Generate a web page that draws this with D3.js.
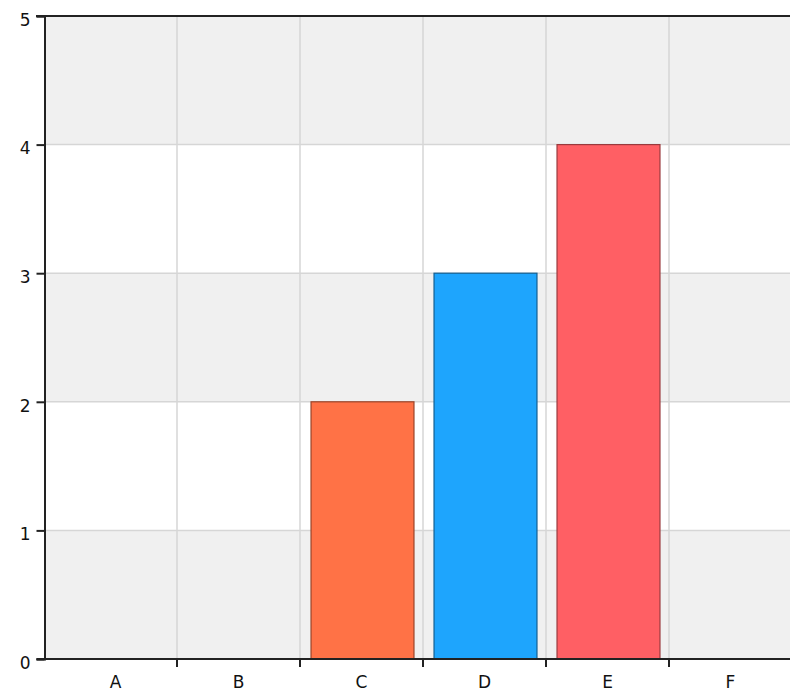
<!DOCTYPE html>
<meta charset="utf-8">
<style>
    body { margin: 0; background: #fff; }
    .tick text { font-family: "DejaVu Sans", sans-serif; font-size: 17px; fill: #111; }
</style>
<script src="https://d3js.org/d3.v7.min.js"></script>
<div id="chart"></div>
<script>
    // data
    var categories = ["A", "B", "C", "D", "E", "F"];
    var values = [0, 0, 2, 3, 4, 0];
    var colors = ["#ff7246", "#ff7246", "#ff7246", "#1ea5fd", "#ff5f64", "#ff5f64"];
    var strokes = ["#9a4428", "#9a4428", "#9a4428", "#135f92", "#9a3a3d", "#9a3a3d"];
    var yTicks = [0, 1, 2, 3, 4, 5];

    var width = 790, height = 695;
    var axisX = 44.5;          // y axis line
    var plotTop = 16, plotBottom = 659;

    var svg = d3.select("#chart").append("svg")
        .attr("width", width).attr("height", height);

    var x = d3.scaleBand().domain(categories).range([54, 792]).padding(0);
    var y = d3.scaleLinear().domain([0, 5]).range([plotBottom, plotTop]);

    // alternating bands
    d3.range(5).forEach(function(i) {
        svg.append("rect")
            .attr("x", axisX).attr("y", y(i + 1))
            .attr("width", width - axisX).attr("height", y(i) - y(i + 1))
            .attr("fill", i % 2 == 0 ? "#f0f0f0" : "#ffffff");
    });

    // horizontal grid
    yTicks.forEach(function(t) {
        svg.append("line")
            .attr("x1", axisX).attr("x2", width)
            .attr("y1", y(t)).attr("y2", y(t))
            .attr("stroke", "#d6d6d6").attr("stroke-width", 1.5);
    });

    // vertical grid at category boundaries
    categories.slice(1).forEach(function(c) {
        svg.append("line")
            .attr("x1", x(c)).attr("x2", x(c))
            .attr("y1", plotTop).attr("y2", plotBottom)
            .attr("stroke", "#d6d6d6").attr("stroke-width", 1.5);
    });

    // bars
    var barW = x.bandwidth() * 0.837;
    categories.forEach(function(c, i) {
        if (values[i] <= 0) return;
        svg.append("rect")
            .attr("x", x(c) + (x.bandwidth() - barW) / 2 + 1)
            .attr("y", y(values[i]))
            .attr("width", barW)
            .attr("height", y(0) - y(values[i]))
            .attr("fill", colors[i])
            .attr("stroke", strokes[i]).attr("stroke-width", 1.2);
    });

    // top border
    svg.append("line")
        .attr("x1", 36).attr("x2", width)
        .attr("y1", plotTop).attr("y2", plotTop)
        .attr("stroke", "#222").attr("stroke-width", 2);

    // y axis
    var yAxis = d3.axisLeft(y).tickValues(yTicks).tickFormat(d3.format("d"))
        .tickSize(8).tickPadding(6);
    var gy = svg.append("g").attr("transform", "translate(" + axisX + ",0)").call(yAxis);
    gy.select(".domain").attr("stroke", "#222").attr("stroke-width", 2);
    gy.selectAll(".tick line").attr("stroke", "#222").attr("stroke-width", 2);
    gy.selectAll(".tick text").attr("dy", "0.55em");

    // x axis
    var gx = svg.append("g").attr("transform", "translate(0," + plotBottom + ")")
        .call(d3.axisBottom(x).tickSize(0).tickPadding(17));
    gx.select(".domain").remove();
    svg.append("line")
        .attr("x1", axisX - 8).attr("x2", width)
        .attr("y1", plotBottom).attr("y2", plotBottom)
        .attr("stroke", "#222").attr("stroke-width", 2);
    categories.slice(1).forEach(function(c) {
        svg.append("line")
            .attr("x1", x(c)).attr("x2", x(c))
            .attr("y1", plotBottom).attr("y2", plotBottom + 8)
            .attr("stroke", "#222").attr("stroke-width", 2);
    });
</script>
